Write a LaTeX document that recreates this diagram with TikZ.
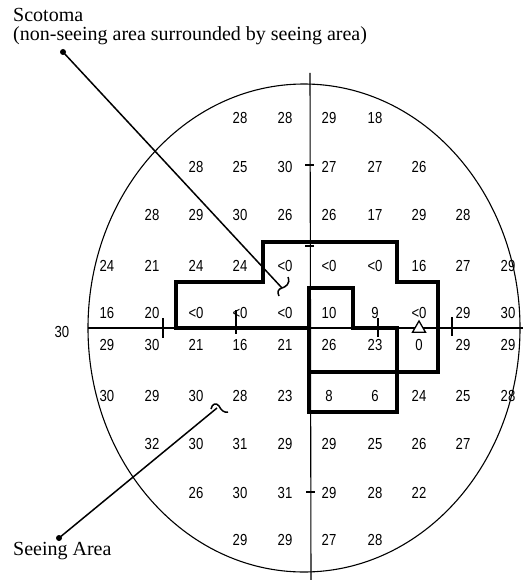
\documentclass[tikz,border=0pt]{standalone}
\usepackage{fontspec}
\setmainfont{Liberation Serif}
\newfontfamily\numfont[FakeStretch=0.82]{Liberation Sans}
\usetikzlibrary{shapes.geometric}
\begin{document}
\begin{tikzpicture}[x=1pt,y=-1pt,
  num/.style={font=\numfont\fontsize{16}{16}\selectfont, inner sep=0pt},
  lbl/.style={font=\fontsize{20}{24}\selectfont, inner sep=0pt, anchor=base west},
  thinln/.style={line width=1.1pt},
  tickln/.style={line width=1.1pt},
  scot/.style={line width=3.7pt, line join=miter, line cap=rect},
  leader/.style={line width=1.5pt},
  dot/.style={circle, fill=black, inner sep=0pt, minimum size=6pt},
  tri/.style={regular polygon, regular polygon sides=3, draw, fill=white, line width=1.3pt, inner sep=0pt, minimum size=15pt}
]
\useasboundingbox (0,0) rectangle (522,580);

% field boundary
\draw[thinln] (304,328) ellipse [x radius=216pt, y radius=244pt];

% axes
\coordinate (vtop) at (310,73);
\coordinate (vbot) at (311,582);
\coordinate (hl) at (88,328);
\coordinate (hr) at (524,328);
\draw[thinln] (vtop) -- (vbot);
\draw[thinln] (hl) -- (hr);

% ticks on horizontal axis
\draw[tickln] (163,318) -- (163,338);
\draw[tickln] (236,310) -- (236,334);
\draw[tickln] (378,318) -- (378,337);
\draw[tickln] (452,317) -- (452,336);
% ticks on vertical axis
\draw[tickln] (305,165) -- (314,165);
\draw[tickln] (305,246) -- (314,246);
\draw[tickln] (306,492) -- (315,492);

% scotoma outline
\draw[scot] (176,328) -- (176,282) -- (263,282) -- (263,242) -- (397,242) -- (397,282) -- (438,282) -- (438,372) -- (309,372);
\draw[scot] (176,328) -- (309,328);
\draw[scot] (309,412) -- (309,288) -- (353,288) -- (353,328) -- (397,328) -- (397,412) -- cycle;

% fixation triangle
\node[tri] (fix) at (419,328.5) {};

% numbers
\def\cx#1{\ifcase#1\or107\or152\or196\or240\or285\or329\or375\or419\or463\or508\fi}
\foreach \y/\start/\vals [count=\r] in {
  118/4/{28,28,29,18},
  167/3/{28,25,30,27,27,26},
  215/2/{28,29,30,26,26,17,29,28},
  266/1/{24,21,24,24,<0,<0,<0,16,27,29},
  313/1/{16,20,<0,<0,<0,10,9,<0,29,30},
  345/1/{29,30,21,16,21,26,23,0,29,29},
  396/1/{30,29,30,28,23,8,6,24,25,28},
  444/2/{32,30,31,29,29,25,26,27},
  493/3/{26,30,31,29,28,22},
  540/4/{29,29,27,28}} {
  \foreach \v [count=\k] in \vals {
    \pgfmathtruncatemacro{\c}{\start+\k-1}
    \node[num] (n-\r-\c) at (\cx{\c},\y) {\v};
  }
}
\node[num] (left30) at (62,332) {30};

% labels
\node[lbl, text depth=0pt] (scotlbl) at (13,22) {Scotoma};
\node[lbl, text height=13.5pt] (scotlbl2) at (13,41) {(non-seeing area surrounded by seeing area)};
\node[lbl] (seelbl) at (13,555) {Seeing Area};

% leaders
\node[dot] (sdot) at (63,52) {};
\coordinate (send) at (282,288);
\draw[leader] (sdot.center) -- (send);
\draw[leader] (288,277) .. controls (291,284) and (285,287) .. (282,288) .. controls (278,289) and (277,292) .. (279,296);

\node[dot] (adot) at (59,538) {};
\coordinate (aend) at (217,408);
\draw[leader] (adot.center) -- (aend);
\draw[leader] (211,409) .. controls (212,404) and (216,402) .. (219,406) .. controls (221,410) and (224,413) .. (228,412);
\end{tikzpicture}
\end{document}
